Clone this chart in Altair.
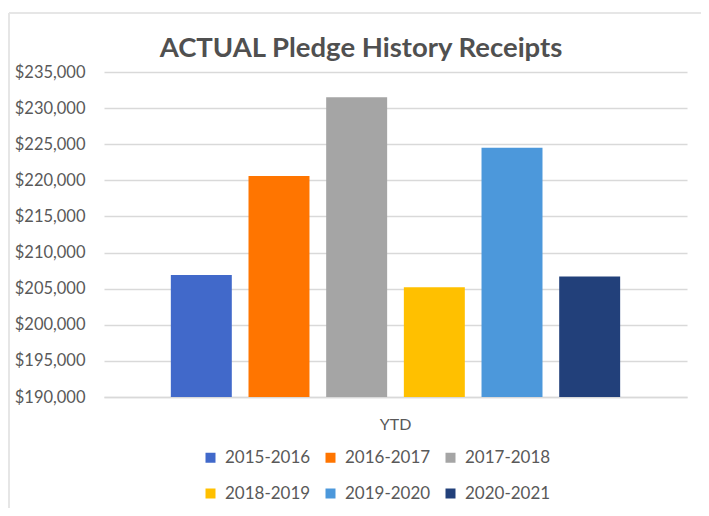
import altair as alt
import pandas as pd

title_text = "ACTUAL Pledge History Receipts"
seasons = ["2015-2016", "2016-2017", "2017-2018", "2018-2019", "2019-2020", "2020-2021"]
receipts = [206900, 220600, 231500, 205200, 224500, 206700]
category = ["YTD"] * len(seasons)
colors = ["#4169CA", "#FF7500", "#A5A5A5", "#FFC000", "#4C98DB", "#22407A"]
y_ticks = [190000, 195000, 200000, 205000, 210000, 215000, 220000, 225000, 230000, 235000]

df = pd.DataFrame({"period": category, "season": seasons, "receipts": receipts})
tdf = pd.DataFrame({"t": [title_text]})

FONT = "Lato"
TXT = "#595959"
GRID = "#D9D9D9"

bars = alt.Chart(df).mark_bar(clip=True).encode(
    x=alt.X("period:N", title=None,
            scale=alt.Scale(paddingInner=0, paddingOuter=0.1255),
            axis=alt.Axis(labelAngle=0, labelFontSize=16, labelColor=TXT, labelFont=FONT,
                          ticks=False, domain=True, domainColor=GRID, domainWidth=1.5,
                          labelPadding=19)),
    xOffset=alt.XOffset("season:N", sort=seasons,
                        scale=alt.Scale(paddingInner=0.215, paddingOuter=0.1075)),
    y=alt.Y("receipts:Q", title=None,
            scale=alt.Scale(domain=[190000, 235000], nice=False, zero=False),
            axis=alt.Axis(values=y_ticks, format="$,d", labelFontSize=16.5, labelColor=TXT,
                          labelFont=FONT, ticks=False, domain=False, gridColor=GRID,
                          gridWidth=1.5, labelPadding=19)),
    color=alt.Color("season:N", sort=seasons,
                    scale=alt.Scale(domain=seasons, range=colors),
                    legend=alt.Legend(title=None, orient="none", legendX=98, legendY=377,
                                      direction="horizontal", columns=3,
                                      symbolType="square", symbolSize=100,
                                      symbolStrokeWidth=0, labelFontSize=17,
                                      labelFont=FONT, labelColor=TXT, labelOffset=6,
                                      columnPadding=11, rowPadding=18)),
)

title = alt.Chart(tdf).mark_text(font=FONT, fontSize=27.5, fontWeight="bold", color="#505050",
                                 align="center", baseline="alphabetic").encode(
    text="t:N", x=alt.value(257), y=alt.value(-15.5))

frame_h = alt.Chart(tdf).mark_rule(color="#E6E6E6", strokeWidth=2).encode(
    x=alt.value(-95), x2=alt.value(700), y=alt.value(-59))
frame_v = alt.Chart(tdf).mark_rule(color="#E6E6E6", strokeWidth=2).encode(
    x=alt.value(-95), y=alt.value(-59), y2=alt.value(500))

chart = alt.layer(frame_h, frame_v, bars, title).properties(
    width=583, height=325,
    autosize=alt.AutoSizeParams(type="none"),
    padding={"left": 96, "top": 64, "right": 14, "bottom": 111},
    background="white",
).configure_view(stroke=None)

chart.save("out.html", embed_options={"renderer": "svg", "actions": False})
